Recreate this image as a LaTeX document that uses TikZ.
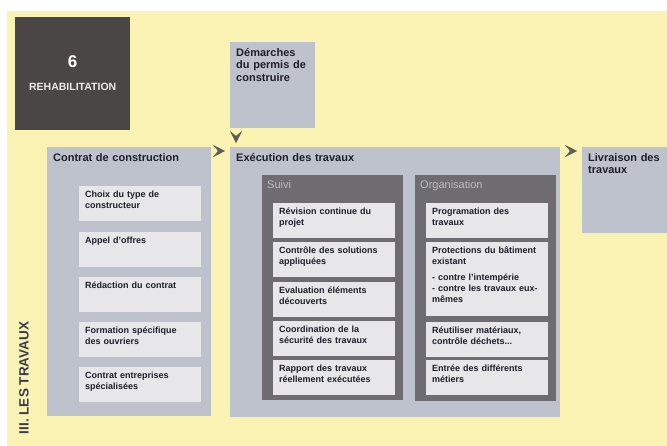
\documentclass[tikz,border=0pt]{standalone}
\usepackage{fontspec}
\setmainfont{Liberation Sans}
\usepackage{tikz}
\usetikzlibrary{arrows.meta}
\definecolor{bgyellow}{RGB}{251,243,180}
\definecolor{boxgray}{RGB}{190,194,204}
\definecolor{cardgray}{RGB}{231,231,234}
\definecolor{panelgray}{RGB}{110,107,113}
\definecolor{panelink}{RGB}{190,188,194}
\definecolor{darkbox}{RGB}{74,70,70}
\definecolor{arrowgray}{RGB}{94,91,80}
\definecolor{inkblue}{RGB}{30,30,42}
\definecolor{sideink}{RGB}{58,60,78}
\tikzset{
  every node/.append style={text=inkblue},
  bigbox/.style={
    fill=boxgray, anchor=north west, align=left, inner xsep=6pt, inner ysep=6pt,
    text height=8pt, font=\bfseries\fontsize{11}{12.5}\selectfont
  },
  panel/.style={
    fill=panelgray, anchor=north west, align=left, inner xsep=5pt, inner ysep=5pt,
    text width=131pt, text height=8pt, text=panelink, font=\fontsize{11}{12}\selectfont
  },
  card/.style={
    fill=cardgray, anchor=north west, align=left, inner xsep=6pt, inner ysep=4pt,
    text width=110pt, text height=7pt, text depth=20pt, font=\bfseries\fontsize{9}{11}\selectfont
  },
  flow/.style={
    draw=bgyellow, shorten >=5pt,
    -{Stealth[color=arrowgray, length=12pt, width=12pt, inset=5pt]}
  }
}

\begin{document}
\begin{tikzpicture}[x=1pt, y=-1pt]
  \useasboundingbox (0,0) rectangle (667,446);
  \fill[bgyellow] (7,11) rectangle (667,446);

  \node[fill=darkbox, anchor=north west, minimum width=115pt, minimum height=113pt] (rehab) at (15,17) {};
  \node[text=white, font=\bfseries\fontsize{17}{17}\selectfont] (rehabnum) at ([yshift=12pt]rehab.center) {6};
  \node[text=white!92!black, font=\bfseries\fontsize{10.5}{11}\selectfont] (rehabname) at ([yshift=-13.5pt]rehab.center) {REHABILITATION};

  \node[bigbox, text width=73pt, text depth=66pt] (demarches) at (230,42) {D\'emarches\\du permis de\\construire};

  \node[bigbox, text width=152pt, text depth=249pt] (contrat) at (47,147) {Contrat de construction};
  \node[bigbox, text width=318pt, text depth=250pt] (exec) at (230,147) {Ex\'ecution des travaux};
  \node[bigbox, text width=78pt, text depth=66pt] (livraison) at (582,147) {Livraison des\\travaux};

  \node[card] (choix) at (79,186) {Choix du type de\\constructeur};
  \node[card] (appel) at (79,232) {Appel d'offres};
  \node[card] (redaction) at (79,277) {R\'edaction du contrat};
  \node[card] (formation) at (79,322) {Formation sp\'ecifique\\des ouvriers};
  \node[card] (entreprises) at (79,367) {Contrat entreprises\\sp\'ecialis\'ees};

  \node[panel, text depth=207pt] (suivi) at (262,175) {Suivi};
  \node[card] (revision) at (273,203) {R\'evision continue du\\projet};
  \node[card] (controle) at (273,242) {Contr\^ole des solutions\\appliqu\'ees};
  \node[card] (evaluation) at (273,282) {Evaluation \'el\'ements\\d\'ecouverts};
  \node[card] (coordination) at (273,321) {Coordination de la\\s\'ecurit\'e des travaux};
  \node[card] (rapport) at (273,360) {Rapport des travaux\\r\'eellement ex\'ecut\'ees};

  \node[panel, text depth=208pt] (organisation) at (415,175) {Organisation};
  \node[card] (programmation) at (426,203) {Programation des\\travaux};
  \node[card, text depth=59pt] (protections) at (426,242) {Protections du b\^atiment\\existant\\[5pt]- contre l'intemp\'erie\\- contre les travaux eux-\\m\^emes};
  \node[card] (reutiliser) at (426,322) {R\'eutiliser  mat\'eriaux,\\contr\^ole d\'echets...};
  \node[card] (metiers) at (426,360) {Entr\'ee des diff\'erents\\m\'etiers};

  \node[rotate=90, text=sideink, font=\bfseries\fontsize{13.5}{14}\selectfont] (travaux) at (24,378) {III. LES TRAVAUX};

  \draw[flow, shorten >=4pt] ([xshift=6pt]demarches.south west) -- ([xshift=6pt]exec.north west);
  \draw[flow] ([yshift=-4pt]contrat.north east) -- ([yshift=-4pt]exec.north west);
  \draw[flow] ([yshift=-4pt]exec.north east) -- ([yshift=-4pt]livraison.north west);
\end{tikzpicture}
\end{document}
